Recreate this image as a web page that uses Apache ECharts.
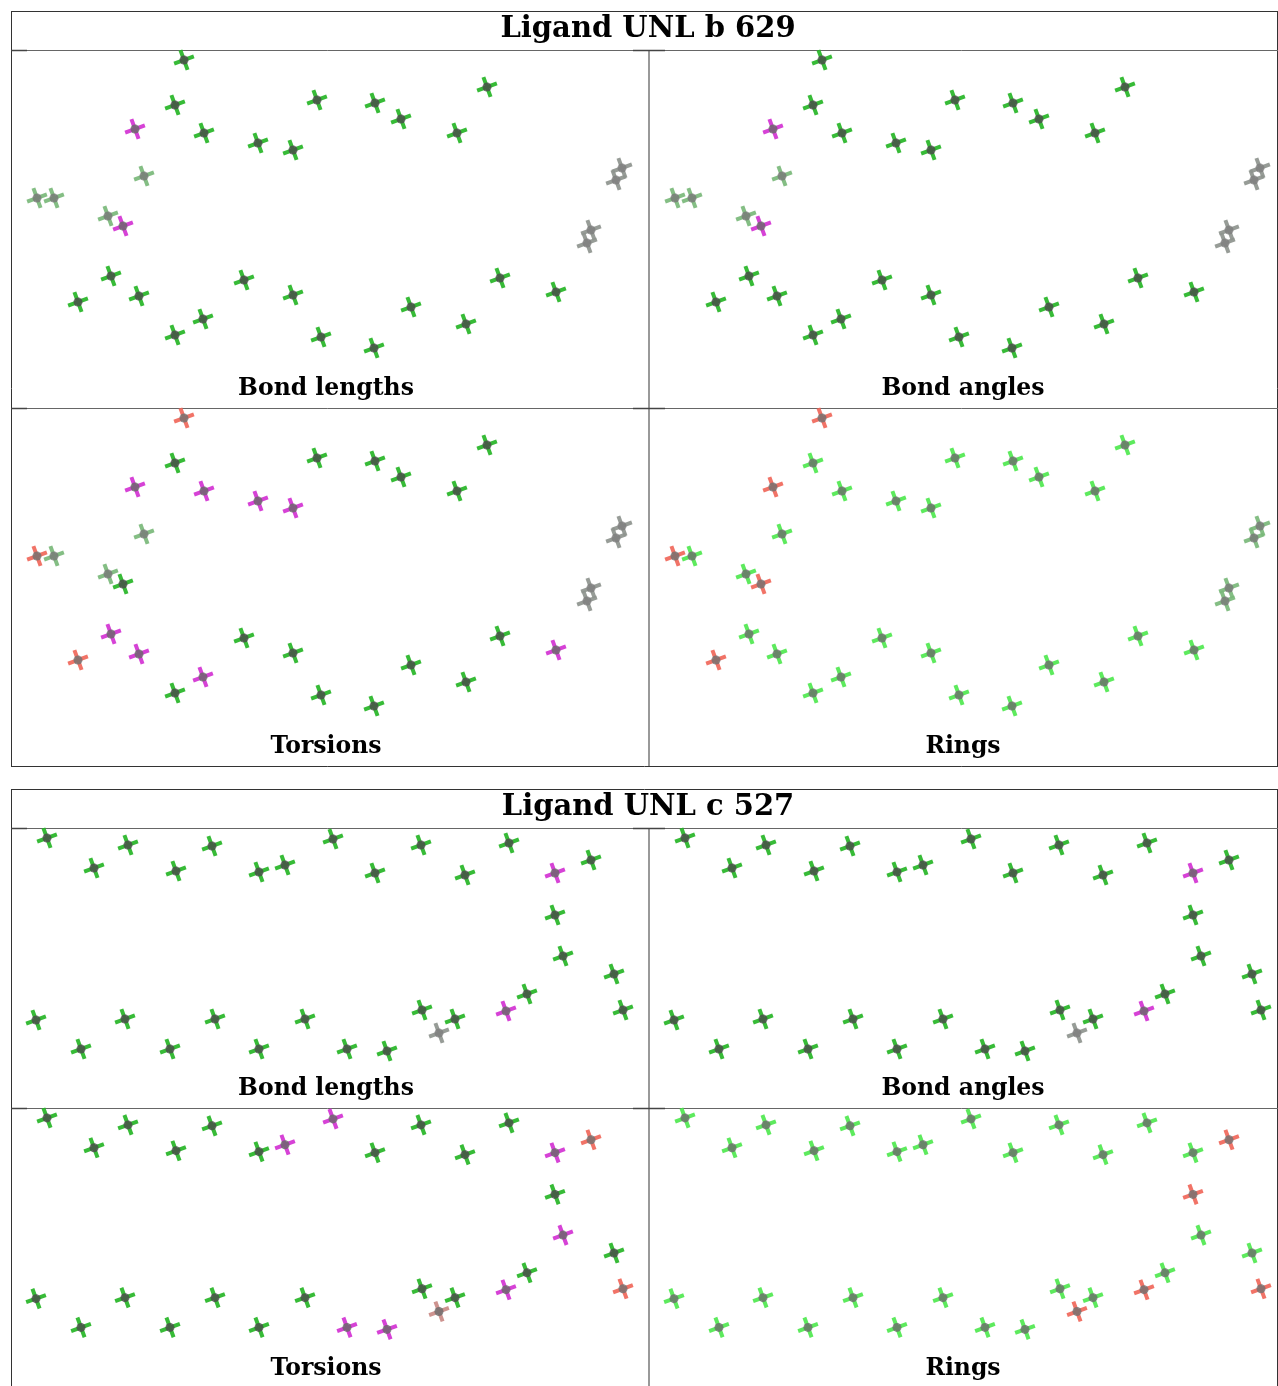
<!DOCTYPE html>
<html><head><meta charset="utf-8">
<script src="https://cdn.jsdelivr.net/npm/echarts@6/dist/echarts.min.js"></script>
<style>html,body{margin:0;padding:0;background:#fff}#c{width:1278px;height:1386px}</style>
</head><body><div id="c"></div>
<script>
// ---- Data: marker positions (panel-local units) and per-panel status codes ----
// codes: g = green, gg = grey-green, gr = grey, m = magenta, r = red, lg = light green, rg = red-grey
const blockTitles = ["Ligand UNL b 629", "Ligand UNL c 527"];
const panelNames = ["Bond lengths", "Bond angles", "Torsions", "Rings"];

const b629X = [173,164,124,193,247,282,306,364,390,476,446,133,26,43,97,112,611,605,580,576,100,67,128,233,282,164,192,310,363,400,455,489,545];
const b629Y = [10,55,79,83,93,100,50,53,69,37,83,126,148,148,166,176,118,130,180,193,226,252,246,230,245,285,269,287,298,257,274,228,242];
const b629Bond   = ["g","g","m","g","g","g","g","g","g","g","g","gg","gg","gg","gg","m","gr","gr","gr","gr","g","g","g","g","g","g","g","g","g","g","g","g","g"];
const b629Angle  = ["g","g","m","g","g","g","g","g","g","g","g","gg","gg","gg","gg","m","gr","gr","gr","gr","g","g","g","g","g","g","g","g","g","g","g","g","g"];
const b629Tors   = ["r","g","m","m","m","m","g","g","g","g","g","gg","r","gg","gg","g","gr","gr","gr","gr","m","r","m","g","g","g","m","g","g","g","g","g","m"];
const b629Rings  = ["r","lg","r","lg","lg","lg","lg","lg","lg","lg","lg","lg","r","lg","lg","r","gg","gg","gg","gg","lg","r","lg","lg","lg","lg","lg","lg","lg","lg","lg","lg","lg"];

const c527X = [36,83,117,165,201,248,274,322,364,410,454,498,544,580,544,552,603,516,495,612,25,70,114,159,204,248,294,336,376,411,444,428];
const c527Y = [10,40,17,43,18,44,37,11,45,17,47,15,45,32,87,128,146,166,183,182,192,221,191,221,191,221,191,221,223,182,191,205];
const c527Bond  = ["g","g","g","g","g","g","g","g","g","g","g","g","m","g","g","g","g","g","m","g","g","g","g","g","g","g","g","g","g","g","g","gr"];
const c527Angle = ["g","g","g","g","g","g","g","g","g","g","g","g","m","g","g","g","g","g","m","g","g","g","g","g","g","g","g","g","g","g","g","gr"];
const c527Tors  = ["g","g","g","g","g","g","m","m","g","g","g","g","m","r","g","m","g","g","m","r","g","g","g","g","g","g","g","m","m","g","g","rg"];
const c527Rings = ["lg","lg","lg","lg","lg","lg","lg","lg","lg","lg","lg","lg","lg","r","r","lg","lg","lg","r","r","lg","lg","lg","lg","lg","lg","lg","lg","lg","lg","lg","r"];

// ---- styles ----
const armColor = {g:"#26b526", gg:"#7ab87a", gr:"#8e948e", m:"#d332d3", r:"#f0675a", lg:"#4fe84f", rg:"#c98a86"};
const coreColor = {g:"#4a4a4a", gg:"#787878", gr:"#7e7e7e", m:"#686868", r:"#707070", lg:"#6c6c6c", rg:"#6c6c6c"};
const cross = "path://M-10,-1.9 L10,-1.9 L10,1.9 L-10,1.9 Z M-1.9,-10 L1.9,-10 L1.9,10 L-1.9,10 Z";

const blocks = [
  {title: blockTitles[0], X: b629X, Y: b629Y, codes:[b629Bond,b629Angle,b629Tors,b629Rings], top: 11, titleH: 39, panelH: 358, ymax: 358},
  {title: blockTitles[1], X: c527X, Y: c527Y, codes:[c527Bond,c527Angle,c527Tors,c527Rings], top: 789, titleH: 39, panelH: 280, ymax: 280}
];
const LEFT = 11, MID = 649, RIGHT = 1277;

const grid = [], xAxis = [], yAxis = [], series = [], graphic = [];
const line = (x1,y1,x2,y2,c,w) => graphic.push({type:'line', shape:{x1,y1,x2,y2}, style:{stroke:c, lineWidth:w}, silent:true});

blocks.forEach((b, bi) => {
  const pTop = b.top + b.titleH;
  const bottom = bi === 0 ? pTop + 2*b.panelH : 1392;
  // frames
  line(LEFT+0.5, b.top+0.5, RIGHT+0.5, b.top+0.5, "#333", 1);
  line(LEFT+0.5, b.top, LEFT+0.5, bottom, "#333", 1);
  line(RIGHT+0.5, b.top, RIGHT+0.5, bottom, "#333", 1);
  if (bi === 0) line(LEFT, bottom+0.5, RIGHT+1, bottom+0.5, "#333", 1);
  line(LEFT, pTop+0.5, RIGHT+1, pTop+0.5, "#666", 1);
  line(LEFT, pTop+b.panelH+0.5, RIGHT+1, pTop+b.panelH+0.5, "#666", 1);
  line(MID, pTop, MID, bottom, "#777", 1.5);
  // little corner ticks
  [pTop, pTop+b.panelH].forEach(yy => {
    line(LEFT, yy+0.5, LEFT+16, yy+0.5, "#444", 1.5);
    line(MID-16, yy+0.5, MID+16, yy+0.5, "#444", 1.5);
  });
  graphic.push({type:'text', x: 648, y: b.top + 18, style:{text:b.title, font:'bold 29px "DejaVu Serif"', fill:'#000', textAlign:'center', textVerticalAlign:'middle'}, silent:true});
  for (let p = 0; p < 4; p++) {
    const col = p % 2, row = Math.floor(p / 2);
    const gx = col === 0 ? LEFT : MID;
    const gw = col === 0 ? MID - LEFT : 1278 - MID;
    const gy = pTop + row * b.panelH;
    const gi = grid.length;
    grid.push({left: gx, top: gy, width: gw, height: b.panelH, show:false});
    xAxis.push({type:'value', gridIndex: gi, min:0, max:gw, show:false});
    yAxis.push({type:'value', gridIndex: gi, min:0, max:b.ymax, inverse:true, show:false});
    const codes = b.codes[p];
    const pts = b.X.map((x,i) => [x, b.Y[i], codes[i]]);
    series.push({type:'scatter', xAxisIndex:gi, yAxisIndex:gi, silent:true, animation:false,
      symbol: cross, symbolSize: 21, symbolRotate: 20,
      itemStyle:{color: (d) => armColor[d.data[2]], opacity:0.92},
      data: pts});
    series.push({type:'scatter', xAxisIndex:gi, yAxisIndex:gi, silent:true, animation:false,
      symbol:'circle', symbolSize: 9,
      itemStyle:{color: (d) => coreColor[d.data[2]]},
      data: pts});
    const cx = col === 0 ? 326 : 963;
    graphic.push({type:'text', x: cx, y: gy + b.panelH - 19, style:{text: panelNames[p], font:'bold 23.5px "DejaVu Serif"', fill:'#000', textAlign:'center', textVerticalAlign:'middle'}, silent:true});
  }
});

const chart = echarts.init(document.getElementById('c'), null, {renderer:'canvas'});
chart.setOption({animation:false, backgroundColor:'#fff', grid, xAxis, yAxis, series, graphic});
</script></body></html>
